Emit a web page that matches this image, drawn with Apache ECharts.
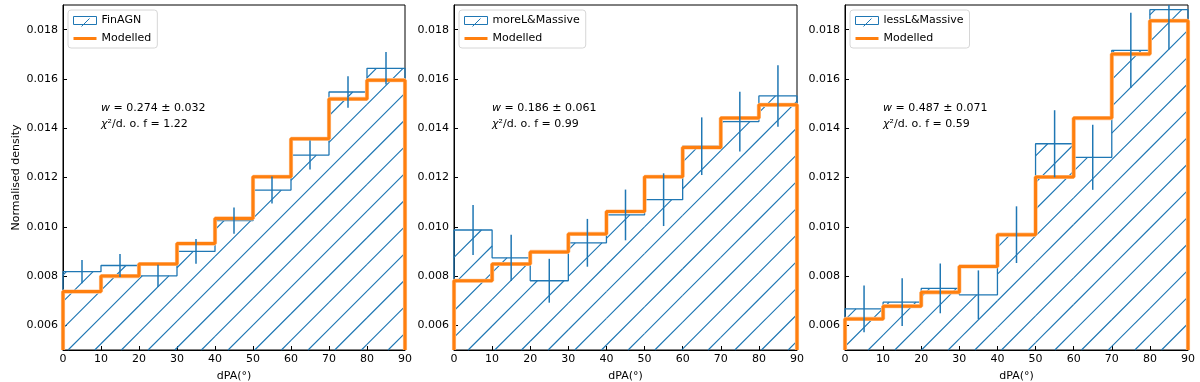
<!DOCTYPE html>
<html>
<head>
<meta charset="utf-8">
<script src="https://cdn.jsdelivr.net/npm/echarts@6/dist/echarts.min.js"></script>
<style>html,body{margin:0;padding:0;background:#fff}#c{width:1200px;height:382px}</style>
</head>
<body>
<div id="c"></div>
<script>
const BIN_EDGES = [0, 10, 20, 30, 40, 50, 60, 70, 80, 90];
const Y_TICKS = [0.006, 0.008, 0.010, 0.012, 0.014, 0.016, 0.018];
const Y_MIN = 0.005, Y_MAX = 0.019;

const PANEL_NAMES = ['FinAGN', 'moreL&Massive', 'lessL&Massive'];
const MODEL_NAME = 'Modelled';
const W_TEXT = ['0.274 ± 0.032', '0.186 ± 0.061', '0.487 ± 0.071'];
const CHI_TEXT = ['1.22', '0.99', '0.59'];

const FIN_HIST  = [0.00818, 0.00843, 0.00801, 0.00900, 0.01025, 0.01149, 0.01291, 0.01547, 0.01643];
const FIN_MODEL = [0.00737, 0.00800, 0.00849, 0.00932, 0.01034, 0.01203, 0.01357, 0.01519, 0.01595];
const FIN_ERR   = [0.00047, 0.00047, 0.00045, 0.00050, 0.00053, 0.00055, 0.00059, 0.00064, 0.00066];

const MORE_HIST  = [0.00987, 0.00874, 0.00781, 0.00935, 0.01048, 0.01110, 0.01327, 0.01427, 0.01531];
const MORE_MODEL = [0.00781, 0.00849, 0.00898, 0.00971, 0.01062, 0.01203, 0.01322, 0.01441, 0.01495];
const MORE_ERR   = [0.00101, 0.00094, 0.00089, 0.00097, 0.00103, 0.00107, 0.00117, 0.00121, 0.00125];

const LESS_HIST  = [0.00667, 0.00694, 0.00750, 0.00724, 0.00968, 0.01337, 0.01282, 0.01716, 0.01881];
const LESS_MODEL = [0.00626, 0.00678, 0.00734, 0.00839, 0.00968, 0.01202, 0.01441, 0.01701, 0.01836];
const LESS_ERR   = [0.00095, 0.00097, 0.00101, 0.00099, 0.00115, 0.00136, 0.00132, 0.00153, 0.00162];

const HISTS = [FIN_HIST, MORE_HIST, LESS_HIST];
const MODELS = [FIN_MODEL, MORE_MODEL, LESS_MODEL];
const ERRS = [FIN_ERR, MORE_ERR, LESS_ERR];

const BLUE = '#1f77b4', ORANGE = '#ff7f0e';
const FONT = 'DejaVu Sans';
const HATCH_STEP = 26.67, HATCH_OFF = 18;

function stepPoints(vals) {
  const pts = [[BIN_EDGES[0], Y_MIN]];
  for (let i = 0; i < vals.length; i++) {
    pts.push([BIN_EDGES[i], vals[i]]);
    pts.push([BIN_EDGES[i + 1], vals[i]]);
  }
  pts.push([BIN_EDGES[BIN_EDGES.length - 1], Y_MIN]);
  return pts;
}

function hatchRender(params, api) {
  const a = api.coord([api.value(0), api.value(2)]);
  const b = api.coord([api.value(1), Y_MIN]);
  const left = a[0], right = b[0], top = a[1], bottom = b[1];
  let d = '';
  const k0 = Math.ceil((left + top - HATCH_OFF) / HATCH_STEP);
  const k1 = Math.floor((right + bottom - HATCH_OFF) / HATCH_STEP);
  for (let k = k0; k <= k1; k++) {
    const c = HATCH_OFF + k * HATCH_STEP;
    const xs = Math.max(left, c - bottom), xe = Math.min(right, c - top);
    if (xe <= xs) continue;
    d += 'M' + xs.toFixed(2) + ',' + (c - xs).toFixed(2) + 'L' + xe.toFixed(2) + ',' + (c - xe).toFixed(2);
  }
  if (!d) d = 'M0,0';
  return { type: 'path', shape: { pathData: d },
    style: { stroke: BLUE, fill: 'none', lineWidth: 1.15, opacity: 1 } };
}

const GRIDS = [
  { left: 63, top: 5, width: 342, height: 345 },
  { left: 454, top: 5, width: 343, height: 345 },
  { left: 845, top: 5, width: 343, height: 345 }
];
const TEXT_X = [101, 492, 883];

const grid = [], xAxis = [], yAxis = [], series = [], legend = [], graphic = [];
for (let p = 0; p < 3; p++) {
  const g = GRIDS[p];
  grid.push(Object.assign({ show: true, borderColor: '#000', borderWidth: 1, backgroundColor: 'transparent',
    containLabel: false, outerBoundsMode: 'none' }, g));
  xAxis.push({
    gridIndex: p, type: 'value', min: 0, max: 90, interval: 10,
    name: 'dPA(°)', nameLocation: 'middle', nameGap: 21,
    nameTextStyle: { fontFamily: FONT, fontSize: 11, color: '#000' },
    axisLine: { lineStyle: { color: '#000', width: 1 } },
    axisTick: { inside: true, length: 4, lineStyle: { color: '#000' } },
    axisLabel: { color: '#000', fontFamily: FONT, fontSize: 11, margin: 4, showMinLabel: true, showMaxLabel: true },
    splitLine: { show: false }
  });
  yAxis.push({
    gridIndex: p, type: 'value', min: Y_MIN, max: Y_MAX,
    name: p === 0 ? 'Normalised density' : '', nameLocation: 'middle', nameGap: 41,
    nameTextStyle: { fontFamily: FONT, fontSize: 11, color: '#000' },
    axisLine: { lineStyle: { color: '#000', width: 1 } },
    axisTick: { inside: true, length: 4, customValues: Y_TICKS, lineStyle: { color: '#000' } },
    axisLabel: { color: '#000', fontFamily: FONT, fontSize: 11, margin: 5, customValues: Y_TICKS,
      formatter: v => v.toFixed(3) },
    splitLine: { show: false }
  });
  const hist = HISTS[p], model = MODELS[p], err = ERRS[p];
  series.push({
    type: 'custom', name: PANEL_NAMES[p], xAxisIndex: p, yAxisIndex: p,
    data: hist.map((v, i) => [BIN_EDGES[i], BIN_EDGES[i + 1], v]),
    renderItem: hatchRender, itemStyle: { color: BLUE },
    silent: true, z: 1
  });
  series.push({
    type: 'line', name: PANEL_NAMES[p] + ' step', xAxisIndex: p, yAxisIndex: p,
    data: stepPoints(hist), symbol: 'none', lineStyle: { color: BLUE, width: 1.3 },
    itemStyle: { color: BLUE }, z: 2, silent: true
  });
  series.push({
    type: 'line', name: MODEL_NAME + ' halo', xAxisIndex: p, yAxisIndex: p,
    data: stepPoints(model), symbol: 'none', lineStyle: { color: '#ffc89a', width: 4.2 },
    itemStyle: { color: '#ffc89a' }, z: 3, silent: true
  });
  series.push({
    type: 'line', name: MODEL_NAME, xAxisIndex: p, yAxisIndex: p,
    data: stepPoints(model), symbol: 'none', lineStyle: { color: ORANGE, width: 3 },
    itemStyle: { color: ORANGE }, z: 3, silent: true
  });
  series.push({
    type: 'custom', name: PANEL_NAMES[p] + ' err', xAxisIndex: p, yAxisIndex: p,
    data: hist.map((v, i) => [(BIN_EDGES[i] + BIN_EDGES[i + 1]) / 2, v, err[i]]),
    renderItem: (params, api) => {
      const x = api.value(0), v = api.value(1), e = api.value(2);
      const lo = api.coord([x, Math.max(v - e, Y_MIN)]);
      const hi = api.coord([x, Math.min(v + e, Y_MAX)]);
      return { type: 'line', shape: { x1: lo[0], y1: lo[1], x2: hi[0], y2: hi[1] },
        style: { stroke: BLUE, lineWidth: 1.5 } };
    },
    silent: true, z: 4
  });
  legend.push({
    left: g.left + 5, top: 10, orient: 'vertical', selectedMode: false,
    itemWidth: 23, itemHeight: 8, itemGap: 7, padding: [5, 6, 4, 5],
    backgroundColor: '#fff', borderColor: '#d6d6d6', borderWidth: 1, borderRadius: 3,
    textStyle: { fontFamily: FONT, fontSize: 11, color: '#000' },
    data: [
      { name: PANEL_NAMES[p], icon: 'rect',
        itemStyle: { color: '#fff', borderColor: BLUE, borderWidth: 1 } },
      { name: MODEL_NAME, icon: 'path://M0,0L23,0L23,3L0,3Z', itemStyle: { color: ORANGE, borderWidth: 0 } }
    ]
  });
  graphic.push({
    type: 'text', left: TEXT_X[p], top: 100, z: 10,
    style: {
      text: '{it|w} = ' + W_TEXT[p] + '\n{it|χ}²/d. o. f = ' + CHI_TEXT[p],
      fontFamily: FONT, fontSize: 11, fill: '#000', lineHeight: 16,
      rich: { it: { fontStyle: 'italic', fontFamily: FONT, fontSize: 11 } }
    }
  });
}
for (let p = 0; p < 3; p++) {
  graphic.push({
    type: 'line', left: GRIDS[p].left + 16, top: 16, z: 20, silent: true,
    shape: { x1: 0, y1: 8, x2: 8, y2: 0 }, style: { stroke: BLUE, lineWidth: 1 }
  });
}

const chart = echarts.init(document.getElementById('c'), null, { renderer: 'canvas' });
chart.setOption({ animation: false, grid, xAxis, yAxis, series, legend, graphic });
</script>
</body>
</html>
